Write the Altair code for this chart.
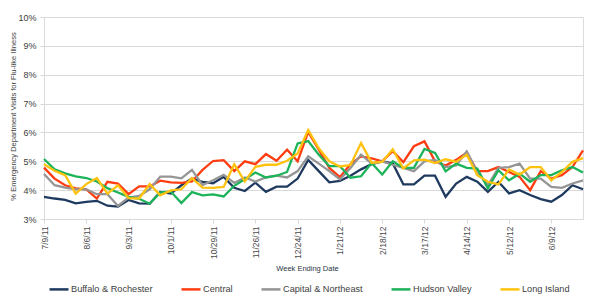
import altair as alt
import pandas as pd

# Week-ending dates (52 weekly points, 7/9/11 .. 6/30/12)
weeks = [f"{d.month}/{d.day}/{d.year % 100:02d}" for d in pd.date_range("2011-07-09", periods=52, freq="7D")]
tick_labels = weeks[::4]

regions = ["Buffalo & Rochester", "Central", "Capital & Northeast", "Hudson Valley", "Long Island"]
colors = ["#1F3A5F", "#FF3D12", "#959595", "#1DB35A", "#FFC20E"]

buffalo = [3.77, 3.71, 3.66, 3.54, 3.59, 3.63, 3.46, 3.43, 3.66, 3.54, 3.53, 3.94, 3.88,
           4.17, 4.40, 4.29, 4.24, 4.46, 4.08, 3.97, 4.26, 3.94, 4.12, 4.12, 4.40, 5.05,
           4.66, 4.27, 4.32, 4.50, 4.72, 4.90, 5.00, 4.92, 4.20, 4.20, 4.50, 4.50, 3.77,
           4.23, 4.46, 4.29, 3.94, 4.29, 3.89, 4.00, 3.83, 3.69, 3.60, 3.83, 4.17, 4.03]
central = [4.78, 4.40, 4.17, 4.06, 4.03, 3.71, 4.29, 4.23, 3.86, 4.13, 4.13, 4.33, 4.27,
           4.25, 4.30, 4.70, 5.01, 5.04, 4.66, 5.00, 4.90, 5.25, 5.02, 5.40, 5.00, 6.02,
           5.40, 4.77, 4.45, 4.90, 5.17, 5.10, 5.00, 5.35, 4.97, 5.52, 5.69, 5.00, 4.85,
           5.05, 5.30, 4.66, 4.66, 4.80, 4.63, 4.46, 4.00, 4.66, 4.40, 4.52, 4.80, 5.38]
capital = [4.56, 4.17, 4.09, 4.03, 4.03, 3.86, 3.86, 3.45, 3.74, 3.80, 4.03, 4.47, 4.47,
           4.41, 4.70, 4.18, 4.34, 4.53, 4.25, 4.44, 4.30, 4.44, 4.50, 4.44, 4.66, 5.17,
           4.92, 4.66, 4.37, 4.77, 5.23, 4.92, 5.00, 4.88, 4.77, 4.66, 5.00, 5.05, 4.80,
           4.86, 5.34, 4.63, 4.17, 4.77, 4.80, 4.92, 4.40, 4.40, 4.11, 4.08, 4.23, 4.34]
hudson = [5.08, 4.72, 4.58, 4.48, 4.42, 4.30, 4.07, 3.92, 3.77, 3.70, 3.53, 3.92, 3.95,
          3.55, 3.93, 3.82, 3.85, 3.78, 4.15, 4.38, 4.61, 4.44, 4.50, 4.63, 5.62, 5.70,
          5.23, 4.83, 4.83, 4.43, 4.48, 4.94, 4.54, 5.00, 4.77, 4.77, 5.43, 5.29, 4.65,
          4.92, 4.77, 4.75, 4.06, 4.69, 4.34, 4.57, 4.29, 4.52, 4.52, 4.69, 4.80, 4.61]
long_island = [4.90, 4.67, 4.52, 3.88, 4.21, 4.42, 3.88, 4.17, 3.72, 3.71, 4.21, 3.82, 3.99,
               4.03, 4.42, 4.09, 4.08, 4.11, 4.90, 4.30, 4.81, 4.88, 4.88, 5.02, 5.27, 6.08,
               5.45, 5.00, 4.82, 4.87, 5.63, 4.95, 4.98, 5.42, 4.75, 5.03, 5.06, 4.94, 5.07,
               4.98, 5.23, 4.52, 4.29, 4.20, 4.72, 4.54, 4.80, 4.80, 4.34, 4.63, 4.98, 5.11]

series = [buffalo, central, capital, hudson, long_island]
rows = []
for name, vals in zip(regions, series):
    for w, v in zip(weeks, vals):
        rows.append({"week": w, "region": name, "value": v / 100.0})
df = pd.DataFrame(rows)

label_color = "#404040"
grid_color = "#D9D9D9"
font = "Liberation Sans"

chart = alt.Chart(df).mark_line(strokeWidth=2.3).encode(
    x=alt.X(
        "week:O",
        sort=weeks,
        scale=alt.Scale(type="point", padding=0),
        axis=alt.Axis(
            values=tick_labels,
            labelAngle=-90,
            labelFontSize=8.5,
            labelColor="#4A4A4A",
            labelFont=font,
            labelPadding=3,
            tickSize=4,
            tickColor=grid_color,
            domainColor=grid_color,
            grid=False,
            title="Week Ending Date",
            titleFont=font,
            titleFontSize=7.5,
            titleFontWeight="normal",
            titleColor="#2B3544",
            titleX=263,
            titleY=49,
            titleAlign="center",
            titleBaseline="middle",
        ),
    ),
    y=alt.Y(
        "value:Q",
        scale=alt.Scale(domain=[0.03, 0.10], nice=False, zero=False),
        axis=alt.Axis(
            format=".0%",
            values=[0.03, 0.04, 0.05, 0.06, 0.07, 0.08, 0.09, 0.10],
            labelFontSize=9,
            labelColor=label_color,
            labelFont=font,
            labelPadding=4,
            tickSize=4,
            tickColor=grid_color,
            domainColor=grid_color,
            gridColor=grid_color,
            title="% Emergency Department Visits for Flu-like Illness",
            titleFont=font,
            titleFontSize=7.5,
            titleFontWeight="normal",
            titleColor=label_color,
            titleAngle=-90,
            titleX=-31,
            titleY=99,
            titleAlign="center",
            titleBaseline="middle",
        ),
    ),
    color=alt.Color(
        "region:N",
        sort=regions,
        scale=alt.Scale(domain=regions, range=colors),
        legend=alt.Legend(
            title=None,
            orient="none",
            direction="horizontal",
            legendX=4,
            legendY=261,
            symbolType="stroke",
            symbolSize=361,
            symbolStrokeWidth=2.5,
            labelFontSize=9.2,
            labelFont=font,
            labelColor=label_color,
            labelOffset=1,
            columnPadding=23,
            padding=0,
        ),
    ),
    detail="region:N",
).properties(
    width=539,
    height=202,
    autosize=alt.AutoSizeParams(type="none"),
    padding={"left": 44, "top": 17, "right": 17, "bottom": 81},
).configure_view(stroke=None).configure(background="white")

chart.save("out.html", embed_options={"renderer": "svg", "actions": False})
